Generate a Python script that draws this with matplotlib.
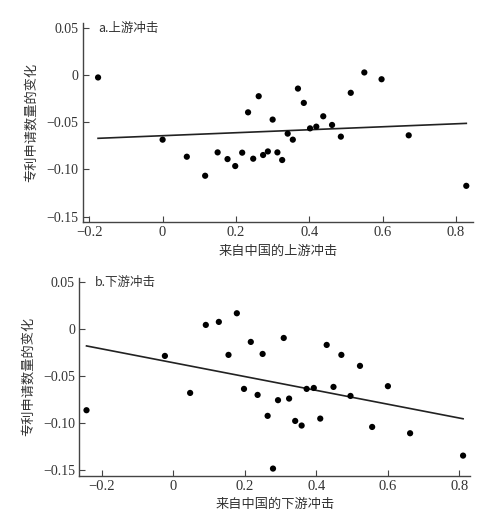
import numpy as np
import matplotlib
matplotlib.use("Agg")
import matplotlib.pyplot as plt

# panel a: upstream shock
UP_X = [-0.176, 0.0, 0.066, 0.116, 0.150, 0.177, 0.198, 0.217, 0.233, 0.247,
        0.262, 0.274, 0.287, 0.300, 0.313, 0.326, 0.341, 0.355, 0.369, 0.385,
        0.402, 0.419, 0.438, 0.462, 0.486, 0.513, 0.550, 0.597, 0.671, 0.828]
UP_Y = [-0.0024, -0.0684, -0.0865, -0.1067, -0.0819, -0.0890, -0.0964, -0.0822, -0.0394, -0.0886,
        -0.0223, -0.0847, -0.0809, -0.0471, -0.0819, -0.0900, -0.0620, -0.0684, -0.0142, -0.0294,
        -0.0564, -0.0546, -0.0436, -0.0528, -0.0652, -0.0187, 0.0029, -0.0043, -0.0638, -0.1174]
UP_FIT = (0.0158, -0.0642)   # slope, intercept

# panel b: downstream shock
DOWN_X = [-0.242, -0.023, 0.0475, 0.0913, 0.1277, 0.1547, 0.178, 0.198, 0.217, 0.236,
          0.250, 0.264, 0.279, 0.293, 0.309, 0.324, 0.341, 0.359, 0.373, 0.393,
          0.411, 0.429, 0.448, 0.470, 0.4955, 0.522, 0.556, 0.600, 0.662, 0.810]
DOWN_Y = [-0.0862, -0.0284, -0.0678, 0.0046, 0.0078, -0.0273, 0.0170, -0.0635, -0.0135, -0.0699,
          -0.0263, -0.0922, -0.1483, -0.0755, -0.0093, -0.0738, -0.0976, -0.1025, -0.0635, -0.0625,
          -0.0951, -0.0167, -0.0614, -0.0273, -0.0710, -0.0390, -0.1040, -0.0606, -0.1107, -0.1345]
DOWN_FIT = (-0.0737, -0.0356)

Y_TICKS = [0.05, 0, -0.05, -0.10, -0.15]
Y_TICKLABELS = ["0.05", "0", "\u22120.05", "\u22120.10", "\u22120.15"]
X_TICKS = [-0.2, 0, 0.2, 0.4, 0.6, 0.8]
X_TICKLABELS = ["\u22120.2", "0", "0.2", "0.4", "0.6", "0.8"]

Y_LABEL = "专利申请数量的变化"

SERIF = ["Liberation Serif", "DejaVu Serif"]
CJK = ["Noto Sans CJK SC", "DejaVu Sans"]
TEXT_COLOR = "#333333"

plt.rcParams["font.family"] = SERIF
plt.rcParams["xtick.labelsize"] = 10.5
plt.rcParams["ytick.labelsize"] = 10
plt.rcParams["xtick.color"] = "#444444"
plt.rcParams["ytick.color"] = "#444444"
plt.rcParams["xtick.labelcolor"] = TEXT_COLOR
plt.rcParams["ytick.labelcolor"] = TEXT_COLOR


def draw_panel(ax, xs, ys, fit, title, x_label, xlim, ylim):
    ax.scatter(xs, ys, s=20, color="black", edgecolors="none", zorder=3)

    # fitted line over the span of the data
    line_x = np.array([min(xs), max(xs)])
    ax.plot(line_x, fit[0] * line_x + fit[1], color="#222222", lw=1.2)

    ax.set_xlim(*xlim)
    ax.set_ylim(*ylim)
    ax.set_xticks(X_TICKS)
    ax.set_xticklabels(X_TICKLABELS)
    ax.set_yticks(Y_TICKS)
    ax.set_yticklabels(Y_TICKLABELS)
    ax.tick_params(direction="in", length=4, width=0.8, pad=3)

    for side in ["top", "right"]:
        ax.spines[side].set_visible(False)
    for side in ["left", "bottom"]:
        ax.spines[side].set_color("#444444")
        ax.spines[side].set_linewidth(1.0)

    ax.set_xlabel(x_label, family=CJK, fontsize=9.5, color=TEXT_COLOR, labelpad=4)
    ax.set_ylabel(Y_LABEL, family=CJK, fontsize=9.5, color=TEXT_COLOR, labelpad=6)
    ax.text(0.04, Y_TICKS[0], title, transform=ax.get_yaxis_transform(),
            family=CJK, fontsize=9, color=TEXT_COLOR, va="center", ha="left")


fig = plt.figure(figsize=(5.04, 5.18), dpi=100)
ax_up = fig.add_axes([0.164, 0.571, 0.775, 0.385])
ax_down = fig.add_axes([0.157, 0.082, 0.776, 0.382])

draw_panel(ax_up, UP_X, UP_Y, UP_FIT, "a.上游冲击", "来自中国的上游冲击",
           (-0.218, 0.847), (-0.156, 0.0556))
draw_panel(ax_down, DOWN_X, DOWN_Y, DOWN_FIT, "b.下游冲击", "来自中国的下游冲击",
           (-0.2626, 0.830), (-0.1557, 0.0549))

fig.savefig("out.png", dpi=100)
